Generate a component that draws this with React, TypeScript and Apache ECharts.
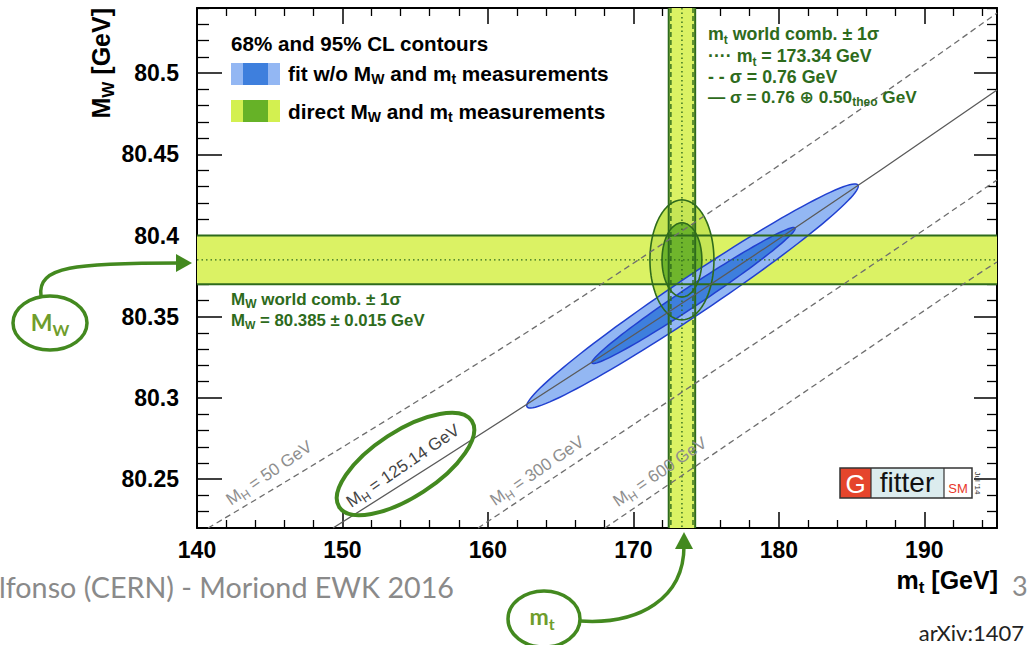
import React, { useEffect, useRef } from 'react';
import * as echarts from 'echarts';

const ROOT = '"Liberation Sans", Arial, Helvetica, "DejaVu Sans", sans-serif';
const SLIDE = 'Lato, "Open Sans", sans-serif';

// axis ranges
const xRange = [140, 195];
const yRange = [80.22, 80.54];

// direct measurements (world combinations)
const mtCentral = 173.34;
const mtSigmaExp = 0.76;
const mtSigmaTheo = 0.5;
const mwCentral = 80.385;
const mwSigma = 0.015;

// direct-measurement contours [95%, 68%]: half extents
const directHalfMt = [2.2, 1.37];
const directHalfMw = [0.0369, 0.0228];

// fit contours w/o MW and mt [95%, 68%]: lower / upper tips and vertical half width
const fitTipLow = [[162.69, 80.2945], [167.16, 80.3215]];
const fitTipHigh = [[185.44, 80.4311], [181.11, 80.4046]];
const fitHalfMw = [0.0138, 0.0072];

// SM prediction lines for several Higgs masses
const mhValues = ['50', '125.14', '300', '600'];
const mhLine50 = [[140.76, 80.22], [167.71, 80.3695], [195, 80.5369]];
const mhLine125 = [[149.35, 80.22], [174.1, 80.3628], [195, 80.4895]];
const mhLine300 = [[159.32, 80.22], [186.41, 80.3818], [195, 80.4342]];
const mhLine600 = [[168.05, 80.22], [192.8, 80.3708], [195, 80.3837]];
const mhLabelAt = [[144.95, 80.2538], [154.16, 80.2582], [163.38, 80.2551], [171.83, 80.2545]];

const C = {
  band: '#dbf264',
  directOuter: '#c6e655',
  directInner: '#6fb52c',
  green: '#2e6b1c',
  fitOuter: '#93b7f3',
  fitInner: '#3e7fdd',
  fitStroke: '#2140d0',
  annot: '#43891f',
};

const rich = (size: number, color: string, weight = 'bold', fam = ROOT) => ({
  b: { fontSize: size, fontWeight: weight, fontFamily: fam, fill: color, color },
  s: {
    fontSize: Math.round(size * 0.68),
    fontWeight: weight,
    fontFamily: fam,
    fill: color,
    color,
    padding: [Math.round(size * 0.6), 0, 0, 0],
  },
});

const gText = (x: number, y: number, text: string, r: any, extra: any = {}, z = 20) => ({
  type: 'text',
  x,
  y,
  z,
  style: { text, rich: r, align: 'left', verticalAlign: 'middle', ...extra },
});

function ellipsePoints(cx: number, cy: number, ux: number, uy: number, a: number, b: number) {
  const vx = -uy;
  const vy = ux;
  const pts: number[][] = [];
  const N = 120;
  for (let k = 0; k < N; k++) {
    const t = (2 * Math.PI * k) / N;
    const ca = Math.cos(t) * a;
    const sb = Math.sin(t) * b;
    pts.push([cx + ca * ux + sb * vx, cy + ca * uy + sb * vy]);
  }
  return pts;
}

const directData = directHalfMt.map((h, i) => [mtCentral, mwCentral, h, directHalfMw[i], i]);
const fitData = fitTipLow.map((p, i) => [p[0], p[1], fitTipHigh[i][0], fitTipHigh[i][1], fitHalfMw[i], i]);

const directRender = (mode: 'fill' | 'stroke') => (params: any, api: any) => {
  const c = api.coord([api.value(0), api.value(1)]);
  const s = api.size([api.value(2), api.value(3)]);
  const i = api.value(4);
  const pts = ellipsePoints(c[0], c[1], 1, 0, s[0], s[1]);
  return {
    type: 'polygon',
    shape: { points: pts },
    style:
      mode === 'fill'
        ? { fill: i === 0 ? C.directOuter : C.directInner, stroke: 'none' }
        : { fill: 'none', stroke: C.green, lineWidth: 1.6 },
  };
};

const fitRender = (params: any, api: any) => {
  const p1 = api.coord([api.value(0), api.value(1)]);
  const p2 = api.coord([api.value(2), api.value(3)]);
  const hv = api.size([0, api.value(4)])[1];
  const i = api.value(5);
  const dx = p2[0] - p1[0];
  const dy = p2[1] - p1[1];
  const len = Math.sqrt(dx * dx + dy * dy);
  const ux = dx / len;
  const uy = dy / len;
  const pts = ellipsePoints((p1[0] + p2[0]) / 2, (p1[1] + p2[1]) / 2, ux, uy, len / 2, hv * Math.abs(ux));
  return {
    type: 'polygon',
    shape: { points: pts },
    style: { fill: i === 0 ? C.fitOuter : C.fitInner, stroke: C.fitStroke, lineWidth: 1.5 },
  };
};

const mtSigmaTot = Math.sqrt(mtSigmaExp * mtSigmaExp + mtSigmaTheo * mtSigmaTheo);

const bandRender = (params: any, api: any) => {
  const cs = params.coordSys;
  const mt = api.value(0);
  const mw = api.value(1);
  const xl = api.coord([mt - mtSigmaTot, yRange[0]])[0];
  const xr = api.coord([mt + mtSigmaTot, yRange[0]])[0];
  const yt = api.coord([xRange[0], mw + mwSigma])[1];
  const yb = api.coord([xRange[0], mw - mwSigma])[1];
  return {
    type: 'group',
    children: [
      { type: 'rect', shape: { x: cs.x, y: yt, width: cs.width, height: yb - yt }, style: { fill: C.band } },
      { type: 'rect', shape: { x: xl, y: cs.y, width: xr - xl, height: cs.height }, style: { fill: C.band } },
    ],
  };
};

const bandLineRender = (params: any, api: any) => {
  const cs = params.coordSys;
  const mt = api.value(0);
  const mw = api.value(1);
  const vx = (v: number) => api.coord([v, yRange[0]])[0];
  const hy = (v: number) => api.coord([xRange[0], v])[1];
  const v = (val: number, style: any) => ({
    type: 'line',
    shape: { x1: vx(val), y1: cs.y, x2: vx(val), y2: cs.y + cs.height },
    style: { stroke: C.green, ...style },
  });
  const h = (val: number, style: any) => ({
    type: 'line',
    shape: { x1: cs.x, y1: hy(val), x2: cs.x + cs.width, y2: hy(val) },
    style: { stroke: C.green, ...style },
  });
  const solid = { lineWidth: 2 };
  const dashed = { lineWidth: 1.4, lineDash: [5, 3] };
  const dotted = { lineWidth: 1.4, lineDash: [1.5, 3] };
  return {
    type: 'group',
    children: [
      v(mt - mtSigmaTot, solid),
      v(mt + mtSigmaTot, solid),
      v(mt - mtSigmaExp, dashed),
      v(mt + mtSigmaExp, dashed),
      v(mt, dotted),
      h(mw - mwSigma, solid),
      h(mw + mwSigma, solid),
      h(mw, dotted),
    ],
  };
};

const labelRender = (params: any, api: any) => {
  const p = api.coord([api.value(0), api.value(1)]);
  const i = api.value(2);
  const col = i === 1 ? '#444' : '#8e8e8e';
  return {
    type: 'text',
    x: p[0],
    y: p[1],
    rotation: 0.6,
    style: {
      text: `{b|M}{s|H}{b| = ${mhValues[i]} GeV}`,
      rich: rich(17, col, 'normal'),
      align: 'center',
      verticalAlign: 'middle',
    },
  };
};

const smLine = (data: number[][], solid: boolean) => ({
  type: 'line',
  data,
  symbol: 'none',
  smooth: true,
  silent: true,
  z: 6,
  lineStyle: solid
    ? { color: '#5a5a5a', width: 1.3, type: 'solid' }
    : { color: '#6e6e6e', width: 1.3, type: [6, 4] },
});

const axisBase = {
  type: 'value',
  splitLine: { show: false },
  axisLine: { show: true, onZero: false, lineStyle: { color: '#000', width: 2 } },
};

const tickLabel = { fontFamily: ROOT, fontWeight: 'bold', fontSize: 23, color: '#000' };

const option: any = {
  animation: false,
  backgroundColor: '#fff',
  grid: { left: 197, top: 8, width: 800, height: 520, containLabel: false },
  xAxis: [
    {
      ...axisBase,
      min: xRange[0],
      max: xRange[1],
      position: 'bottom',
      axisTick: { show: true, inside: true, length: 16, lineStyle: { color: '#000', width: 1.5 } },
      minorTick: { show: true, splitNumber: 5, length: 8, lineStyle: { color: '#000', width: 1.3 } },
      axisLabel: { ...tickLabel, margin: 10, showMaxLabel: false },
    },
    {
      ...axisBase,
      min: xRange[0],
      max: xRange[1],
      position: 'top',
      axisTick: { show: true, inside: true, length: 16, lineStyle: { color: '#000', width: 1.5 } },
      minorTick: { show: true, splitNumber: 5, length: 8, lineStyle: { color: '#000', width: 1.3 } },
      axisLabel: { show: false },
    },
  ],
  yAxis: [
    {
      ...axisBase,
      min: yRange[0],
      max: yRange[1],
      position: 'left',
      axisTick: { show: true, inside: true, length: 25, lineStyle: { color: '#000', width: 1.5 } },
      minorTick: { show: true, splitNumber: 5, length: 12, lineStyle: { color: '#000', width: 1.3 } },
      axisLabel: {
        ...tickLabel,
        margin: 18,
        showMinLabel: false,
        showMaxLabel: false,
        formatter: (v: number) => String(+v.toFixed(2)),
      },
    },
    {
      ...axisBase,
      min: yRange[0],
      max: yRange[1],
      position: 'right',
      axisTick: { show: true, inside: true, length: 23, lineStyle: { color: '#000', width: 1.5 } },
      minorTick: { show: true, splitNumber: 5, length: 10, lineStyle: { color: '#000', width: 1.3 } },
      axisLabel: { show: false },
    },
  ],
  series: [
    { type: 'custom', z: 1, silent: true, clip: true, data: [[mtCentral, mwCentral]], renderItem: bandRender },
    { type: 'custom', z: 2, silent: true, clip: true, data: directData, renderItem: directRender('fill') },
    { type: 'custom', z: 3, silent: true, clip: true, data: fitData, renderItem: fitRender },
    { type: 'custom', z: 4, silent: true, clip: true, data: directData, renderItem: directRender('stroke') },
    { type: 'custom', z: 5, silent: true, clip: true, data: [[mtCentral, mwCentral]], renderItem: bandLineRender },
    smLine(mhLine50, false),
    smLine(mhLine125, true),
    smLine(mhLine300, false),
    smLine(mhLine600, false),
    {
      type: 'custom',
      z: 7,
      silent: true,
      data: mhLabelAt.map((p, i) => [p[0], p[1], i]),
      renderItem: labelRender,
    },
  ],
  graphic: [
    // top-left legend
    gText(231, 43, '{b|68% and 95% CL contours}', rich(20.6, '#000')),
    { type: 'rect', z: 20, shape: { x: 231, y: 63, width: 49, height: 22 }, style: { fill: C.fitOuter } },
    { type: 'rect', z: 21, shape: { x: 243, y: 63, width: 25, height: 22 }, style: { fill: C.fitInner } },
    { type: 'rect', z: 20, shape: { x: 231, y: 100, width: 49, height: 22 }, style: { fill: '#d3f050' } },
    { type: 'rect', z: 21, shape: { x: 243, y: 100, width: 25, height: 22 }, style: { fill: '#66b227' } },
    gText(288, 73, '{b|fit w/o M}{s|W}{b| and m}{s|t}{b| measurements}', rich(20.8, '#000')),
    gText(288, 111, '{b|direct M}{s|W}{b| and m}{s|t}{b| measurements}', rich(20.8, '#000')),
    // mt legend
    gText(708, 34, '{b|m}{s|t}{b| world comb. ± 1σ}', rich(17.8, C.green)),
    gText(708, 56, '{b|···· m}{s|t}{b| = 173.34 GeV}', rich(17.8, C.green)),
    gText(708, 77, '{b|- - σ = 0.76 GeV}', rich(17.8, C.green)),
    gText(708, 97, '{b|— σ = 0.76 ⊕ 0.50}{s|theo}{b| GeV}', rich(17.2, C.green)),
    // MW legend
    gText(231, 299, '{b|M}{s|W}{b| world comb. ± 1σ}', rich(17, C.green)),
    gText(231, 320, '{b|M}{s|W}{b| = 80.385 ± 0.015 GeV}', rich(16.8, C.green)),
    // axis titles
    {
      type: 'text',
      x: 101,
      y: 8,
      rotation: Math.PI / 2,
      z: 20,
      style: { text: '{b|M}{s|W}{b| [GeV]}', rich: rich(25, '#000'), align: 'right', verticalAlign: 'middle' },
    },
    gText(998, 580, '{b|m}{s|t}{b| [GeV]}', rich(25, '#000'), { align: 'right' }),
    // Gfitter logo
    { type: 'rect', z: 20, shape: { x: 840, y: 468, width: 31, height: 30 }, style: { fill: '#e5452c' } },
    { type: 'rect', z: 20, shape: { x: 871, y: 468, width: 73, height: 30 }, style: { fill: '#dcecee' } },
    { type: 'rect', z: 20, shape: { x: 944, y: 468, width: 28, height: 30 }, style: { fill: '#fff' } },
    {
      type: 'rect',
      z: 21,
      shape: { x: 840, y: 468, width: 132, height: 30 },
      style: { fill: 'none', stroke: '#333', lineWidth: 1.5 },
    },
    { type: 'line', z: 21, shape: { x1: 871, y1: 468, x2: 871, y2: 498 }, style: { stroke: '#333', lineWidth: 1.2 } },
    { type: 'line', z: 21, shape: { x1: 944, y1: 468, x2: 944, y2: 498 }, style: { stroke: '#333', lineWidth: 1.2 } },
    {
      type: 'text',
      z: 22,
      x: 855.5,
      y: 484,
      style: { text: 'G', font: `26px ${ROOT}`, fill: '#fff', align: 'center', verticalAlign: 'middle' },
    },
    {
      type: 'text',
      z: 22,
      x: 907,
      y: 482,
      style: { text: 'fitter', font: `28px ${ROOT}`, fill: '#111', align: 'center', verticalAlign: 'middle' },
    },
    {
      type: 'text',
      z: 22,
      x: 958,
      y: 488,
      style: { text: 'SM', font: `13px ${ROOT}`, fill: '#e8372a', align: 'center', verticalAlign: 'middle' },
    },
    {
      type: 'text',
      z: 22,
      x: 977,
      y: 483,
      rotation: -Math.PI / 2,
      style: { text: "Jul '14", font: `8px ${ROOT}`, fill: '#333', align: 'center', verticalAlign: 'middle' },
    },
    // MH = 125.14 annotation ellipse
    {
      type: 'ellipse',
      z: 25,
      x: 405.5,
      y: 464,
      rotation: 0.576,
      shape: { cx: 0, cy: 0, rx: 79, ry: 33 },
      style: { fill: 'none', stroke: C.annot, lineWidth: 4 },
    },
    // MW bubble + arrow
    {
      type: 'ellipse',
      z: 25,
      shape: { cx: 50, cy: 323, rx: 37, ry: 27 },
      style: { fill: '#fff', stroke: C.annot, lineWidth: 3.5 },
    },
    gText(50, 322, '{b|M}{s|W}', rich(23, '#6f9d2c', 'bold', SLIDE), { align: 'center' }, 30),
    {
      type: 'bezierCurve',
      z: 25,
      shape: { x1: 41, y1: 296, cpx1: 37, cpy1: 266, cpx2: 75, cpy2: 263, x2: 180, y2: 263 },
      style: { fill: 'none', stroke: C.annot, lineWidth: 3.5 },
    },
    {
      type: 'polygon',
      z: 25,
      shape: { points: [[192, 263], [176, 254], [176, 272]] },
      style: { fill: C.annot },
    },
    // mt bubble + arrow
    {
      type: 'ellipse',
      z: 25,
      shape: { cx: 544, cy: 619, rx: 36, ry: 28 },
      style: { fill: '#fff', stroke: C.annot, lineWidth: 3.5 },
    },
    gText(542, 616, '{b|m}{s|t}', rich(23, '#6f9d2c', 'bold', SLIDE), { align: 'center' }, 30),
    {
      type: 'bezierCurve',
      z: 25,
      shape: { x1: 580, y1: 621, cpx1: 640, cpy1: 625, cpx2: 684, cpy2: 598, x2: 684, y2: 546 },
      style: { fill: 'none', stroke: C.annot, lineWidth: 3.5 },
    },
    {
      type: 'polygon',
      z: 25,
      shape: { points: [[684, 532], [675, 549], [693, 549]] },
      style: { fill: C.annot },
    },
    // slide texts
    {
      type: 'text',
      z: 20,
      x: -1,
      y: 587,
      style: { text: 'lfonso (CERN) - Moriond EWK 2016', font: `28.7px ${SLIDE}`, fill: '#8a8a8a', align: 'left', verticalAlign: 'middle' },
    },
    {
      type: 'text',
      z: 20,
      x: 1012,
      y: 585,
      style: { text: '3', font: `27px ${SLIDE}`, fill: '#8a8a8a', align: 'left', verticalAlign: 'middle' },
    },
    {
      type: 'text',
      z: 20,
      x: 1024,
      y: 632,
      style: { text: 'arXiv:1407', font: `22px ${SLIDE}`, fill: '#222', align: 'right', verticalAlign: 'middle' },
    },
  ],
};

export default function App() {
  const ref = useRef<HTMLDivElement>(null);
  useEffect(() => {
    if (!ref.current) return;
    const chart = echarts.init(ref.current, null, { renderer: 'svg' });
    chart.setOption(option);
    return () => chart.dispose();
  }, []);
  return (
    <div
      ref={ref}
      style={{ position: 'fixed', left: 0, top: 0, width: 1028, height: 645, background: '#fff' }}
    />
  );
}
